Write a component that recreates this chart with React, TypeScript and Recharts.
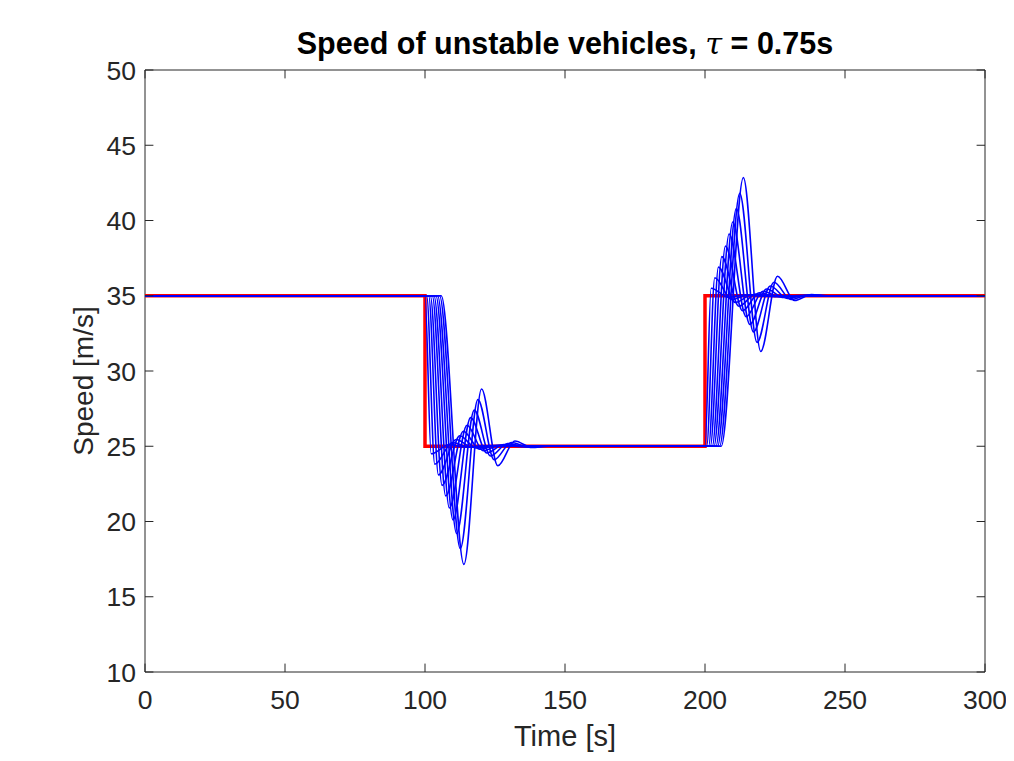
import React from 'react';
import { LineChart, Line, XAxis, YAxis, ReferenceArea } from 'recharts';

// time ticks and speed ticks
const timeTicks = [0, 50, 100, 150, 200, 250, 300];
const speedTicks = [10, 15, 20, 25, 30, 35, 40, 45, 50];

// reference (leader) speed profile [t, v]
const leaderSpeed = [[0, 35], [100, 35], [100, 25], [200, 25], [200, 35], [300, 35]];

const vehicle1 = [[0, 35], [100.0, 35], [102.2, 24.5], [108.5, 25.1], [114.3, 24.95], [120.4, 25.02], [126, 25], [200.0, 25], [202.2, 35.5], [208.3, 34.9], [214.2, 35.05], [220.3, 34.98], [226, 35], [300, 35]];
const vehicle2 = [[0, 35], [100.6, 35], [103.5, 23.8], [109.8, 25.25], [115.6, 24.95], [121.7, 25.02], [128, 25], [200.6, 25], [203.5, 36.2], [209.5, 34.75], [215.5, 35.05], [221.6, 34.98], [228, 35], [300, 35]];
const vehicle3 = [[0, 35], [101.3, 35], [104.8, 23.1], [111.1, 25.45], [116.9, 24.93], [123.0, 25.03], [129, 25], [201.3, 25], [204.8, 36.9], [210.8, 34.55], [216.8, 35.07], [222.9, 34.97], [229, 35], [300, 35]];
const vehicle4 = [[0, 35], [101.9, 35], [106.1, 22.4], [112.4, 25.7], [118.2, 24.88], [124.3, 25.04], [131, 25], [201.9, 25], [206.0, 37.6], [212.1, 34.3], [218.1, 35.12], [224.2, 34.96], [231, 35], [300, 35]];
const vehicle5 = [[0, 35], [102.6, 35], [107.4, 21.7], [113.7, 26.0], [119.5, 24.8], [125.6, 25.06], [132, 25], [202.6, 25], [207.3, 38.3], [213.4, 34.0], [219.4, 35.2], [225.5, 34.94], [232, 35], [300, 35]];
const vehicle6 = [[0, 35], [103.2, 35], [108.7, 20.9], [115.0, 26.4], [120.8, 24.7], [126.9, 25.08], [133, 24.99], [138, 25], [203.2, 25], [208.6, 39.1], [214.7, 33.6], [220.7, 35.3], [226.8, 34.92], [233, 35.01], [238, 35], [300, 35]];
const vehicle7 = [[0, 35], [103.9, 35], [110.0, 20.1], [116.3, 26.9], [122.1, 24.55], [128.2, 25.12], [134.3, 24.98], [140, 25], [203.9, 25], [209.9, 39.9], [216.0, 33.1], [222.0, 35.45], [228.1, 34.88], [234.2, 35.02], [240, 35], [300, 35]];
const vehicle8 = [[0, 35], [104.5, 35], [111.3, 19.2], [117.6, 27.4], [123.4, 24.35], [129.5, 25.18], [135.6, 24.97], [141, 25], [204.5, 25], [211.2, 40.8], [217.3, 32.6], [223.3, 35.65], [229.4, 34.82], [235.5, 35.03], [241, 35], [300, 35]];
const vehicle9 = [[0, 35], [105.2, 35], [112.6, 18.2], [118.9, 28.1], [124.7, 24.1], [130.8, 25.25], [136.9, 24.95], [142, 25], [205.2, 25], [212.4, 41.8], [218.6, 31.9], [224.6, 35.9], [230.7, 34.75], [236.8, 35.05], [242, 35], [300, 35]];
const vehicle10 = [[0, 35], [105.8, 35], [113.9, 17.15], [120.2, 28.8], [126.0, 23.7], [132.1, 25.35], [138.1, 24.92], [144, 25], [205.8, 25], [213.7, 42.85], [219.9, 31.3], [225.9, 36.3], [232.0, 34.68], [238.0, 35.08], [244, 35], [300, 35]];

const followers = [vehicle1, vehicle2, vehicle3, vehicle4, vehicle5, vehicle6, vehicle7, vehicle8, vehicle9, vehicle10];

const toRows = (pts: number[][]) => pts.map(([t, v]) => ({ t, v }));

const W = 1006;
const H = 753;
const PLOT_W = 840;
const PLOT_H = 602;
const TICK = 8.4;
const INK = '#262626';
const FONT = '"Liberation Sans", Helvetica, Arial, sans-serif';

const XTick = (props: any) => {
  const { x, y, payload } = props;
  return (
    <g>
      <line x1={x} x2={x} y1={y} y2={y - TICK} stroke={INK} strokeWidth={1} />
      <line x1={x} x2={x} y1={y - PLOT_H} y2={y - PLOT_H + TICK} stroke={INK} strokeWidth={1} />
      <text x={x} y={y + 37} textAnchor="middle" fill={INK} fontSize={26.5} fontFamily={FONT}>
        {payload.value}
      </text>
    </g>
  );
};

const YTick = (props: any) => {
  const { x, y, payload } = props;
  return (
    <g>
      <line x1={x} x2={x + TICK} y1={y} y2={y} stroke={INK} strokeWidth={1} />
      <line x1={x + PLOT_W - TICK} x2={x + PLOT_W} y1={y} y2={y} stroke={INK} strokeWidth={1} />
      <text x={x - 9} y={y + 9.5} textAnchor="end" fill={INK} fontSize={26.5} fontFamily={FONT}>
        {payload.value}
      </text>
    </g>
  );
};

export default function App() {
  return (
    <div style={{ position: 'relative', width: W, height: H, background: '#fff' }}>
      <LineChart width={W} height={H} margin={{ top: 62, right: 29, bottom: 0, left: 0 }}>
        <XAxis
          dataKey="t"
          type="number"
          domain={[0, 300]}
          ticks={timeTicks}
          height={89}
          axisLine={false}
          tickLine={false}
          tickSize={0}
          tickMargin={0}
          tick={<XTick />}
          allowDataOverflow
        />
        <YAxis
          type="number"
          domain={[10, 50]}
          ticks={speedTicks}
          width={137}
          axisLine={false}
          tickLine={false}
          tickSize={0}
          tickMargin={0}
          tick={<YTick />}
          allowDataOverflow
        />
        <ReferenceArea x1={0} x2={300} y1={10} y2={50} stroke={INK} strokeWidth={1} fill="none" fillOpacity={0} />
        <Line
          data={toRows(leaderSpeed)}
          dataKey="v"
          type="linear"
          stroke="#ff0000"
          strokeWidth={3.5}
          dot={false}
          activeDot={false}
          isAnimationActive={false}
        />
        {followers.map((pts, i) => (
          <Line
            key={i}
            data={toRows(pts)}
            dataKey="v"
            type="monotone"
            stroke="#0000ff"
            strokeWidth={1.6}
            dot={false}
            activeDot={false}
            isAnimationActive={false}
          />
        ))}
      </LineChart>
      <svg width={W} height={H} style={{ position: 'absolute', left: 0, top: 0, pointerEvents: 'none' }}>
        <text x={557} y={46} textAnchor="middle" fill="#000" fontSize={30.5} fontWeight="bold" fontFamily={FONT}>
          Speed of unstable vehicles, <tspan fontStyle="italic" fontWeight="normal" fontFamily="'DejaVu Serif', serif">τ</tspan> = 0.75s
        </text>
        <text x={557} y={738} textAnchor="middle" fill={INK} fontSize={29} fontFamily={FONT}>
          Time [s]
        </text>
        <text x={85} y={373} textAnchor="middle" fill={INK} fontSize={28} fontFamily={FONT} transform="rotate(-90 85 373)">
          Speed [m/s]
        </text>
      </svg>
    </div>
  );
}
